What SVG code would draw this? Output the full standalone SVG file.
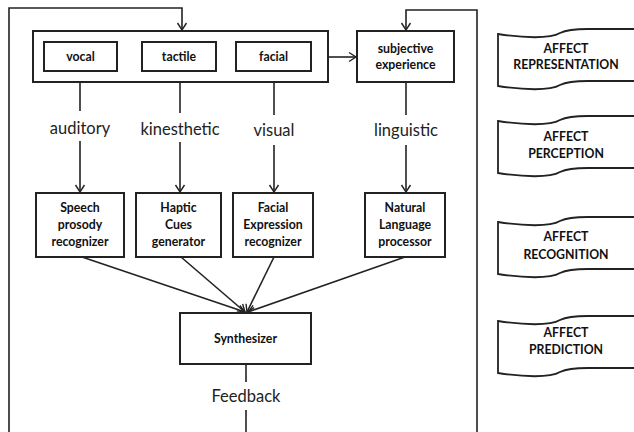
<svg xmlns="http://www.w3.org/2000/svg" width="634" height="432" viewBox="0 0 634 432">
<defs>
<marker id="arr" markerWidth="12" markerHeight="12" refX="10" refY="6" orient="auto" markerUnits="userSpaceOnUse">
<path d="M3,1.5 L10,6 L3,10.5" fill="none" stroke="#222" stroke-width="1.4"/>
</marker>
<path id="tape" d="M0,6 C25,10 52,11 62,5 C68,2 74,1 90,1 L137,1 L137,53 L90,53 C74,53 68,54 62,57 C52,63 25,62 0,58 Z"/>
</defs>
<style>
.box{fill:#fff;stroke:#222;stroke-width:2}
.ln{fill:none;stroke:#222;stroke-width:1.6}
.b{font-family:Lato,"Liberation Sans",sans-serif;font-weight:bold;font-size:12.3px;fill:#111;text-anchor:middle}
.lbl{font-family:Lato,"Liberation Sans",sans-serif;font-size:16.5px;fill:#222;text-anchor:middle}
.tape{fill:#fff;stroke:#222;stroke-width:1.8}
</style>
<rect width="634" height="432" fill="#fff"/>
<g id="connectors">
<polyline class="ln" points="9,432 9,8 182,8 182,30" marker-end="url(#arr)"/>
<polyline class="ln" points="477,432 477,10 406,10 406,30" marker-end="url(#arr)"/>
<line class="ln" x1="328" y1="57" x2="356" y2="57" marker-end="url(#arr)"/>
<line class="ln" x1="80" y1="71" x2="80" y2="111"/>
<line class="ln" x1="80" y1="141" x2="80" y2="192" marker-end="url(#arr)"/>
<line class="ln" x1="180" y1="71" x2="180" y2="113"/>
<line class="ln" x1="180" y1="142" x2="180" y2="192" marker-end="url(#arr)"/>
<line class="ln" x1="274" y1="71" x2="274" y2="115"/>
<line class="ln" x1="274" y1="145" x2="274" y2="192" marker-end="url(#arr)"/>
<line class="ln" x1="406" y1="82" x2="406" y2="115"/>
<line class="ln" x1="406" y1="145" x2="406" y2="192" marker-end="url(#arr)"/>
<line class="ln" x1="82" y1="257" x2="245" y2="312" marker-end="url(#arr)"/>
<line class="ln" x1="181" y1="257" x2="245" y2="312" marker-end="url(#arr)"/>
<line class="ln" x1="274" y1="257" x2="247" y2="312" marker-end="url(#arr)"/>
<line class="ln" x1="405" y1="257" x2="248" y2="312" marker-end="url(#arr)"/>
<line class="ln" x1="246" y1="364" x2="246" y2="382"/>
<line class="ln" x1="246" y1="410" x2="246" y2="432"/>
</g>
<g id="labels">
<text class="lbl" x="80" y="134">auditory</text>
<text class="lbl" x="180" y="135">kinesthetic</text>
<text class="lbl" x="274" y="136">visual</text>
<text class="lbl" x="406" y="136">linguistic</text>
<text class="lbl" x="246" y="402">Feedback</text>
</g>
<g id="modalities">
<rect class="box" x="33" y="31" width="295" height="51"/>
</g>
<g id="vocal"><rect class="box" x="44" y="42" width="73" height="29"/><text class="b" x="80.5" y="61">vocal</text></g>
<g id="tactile"><rect class="box" x="142" y="42" width="74" height="29"/><text class="b" x="179" y="61">tactile</text></g>
<g id="facial"><rect class="box" x="236" y="42" width="75" height="29"/><text class="b" x="273.5" y="61">facial</text></g>
<g id="subjective"><rect class="box" x="357" y="31" width="97" height="51"/><text class="b" x="405.5" y="53">subjective</text><text class="b" x="405.5" y="69">experience</text></g>
<g id="speech"><rect class="box" x="36" y="193" width="88" height="64"/><text class="b" x="80" y="212">Speech</text><text class="b" x="80" y="229">prosody</text><text class="b" x="80" y="246">recognizer</text></g>
<g id="haptic"><rect class="box" x="136" y="193" width="85" height="64"/><text class="b" x="178.5" y="212">Haptic</text><text class="b" x="178.5" y="229">Cues</text><text class="b" x="178.5" y="246">generator</text></g>
<g id="facialexp"><rect class="box" x="233" y="193" width="80" height="64"/><text class="b" x="273" y="212">Facial</text><text class="b" x="273" y="229">Expression</text><text class="b" x="273" y="246">recognizer</text></g>
<g id="natural"><rect class="box" x="365" y="193" width="80" height="64"/><text class="b" x="405" y="212">Natural</text><text class="b" x="405" y="229">Language</text><text class="b" x="405" y="246">processor</text></g>
<g id="synth"><rect class="box" x="180" y="313" width="131" height="51"/><text class="b" x="245.5" y="343">Synthesizer</text></g>
<g id="affect-representation"><use href="#tape" class="tape" transform="translate(498,28)"/><text class="b" x="566" y="53">AFFECT</text><text class="b" x="566" y="69">REPRESENTATION</text></g>
<g id="affect-perception"><use href="#tape" class="tape" transform="translate(498,115)"/><text class="b" x="566" y="141">AFFECT</text><text class="b" x="566" y="158">PERCEPTION</text></g>
<g id="affect-recognition"><use href="#tape" class="tape" transform="translate(498,216)"/><text class="b" x="566" y="241">AFFECT</text><text class="b" x="566" y="259">RECOGNITION</text></g>
<g id="affect-prediction"><use href="#tape" class="tape" transform="translate(498,315)"/><text class="b" x="566" y="337">AFFECT</text><text class="b" x="566" y="354">PREDICTION</text></g>
</svg>
